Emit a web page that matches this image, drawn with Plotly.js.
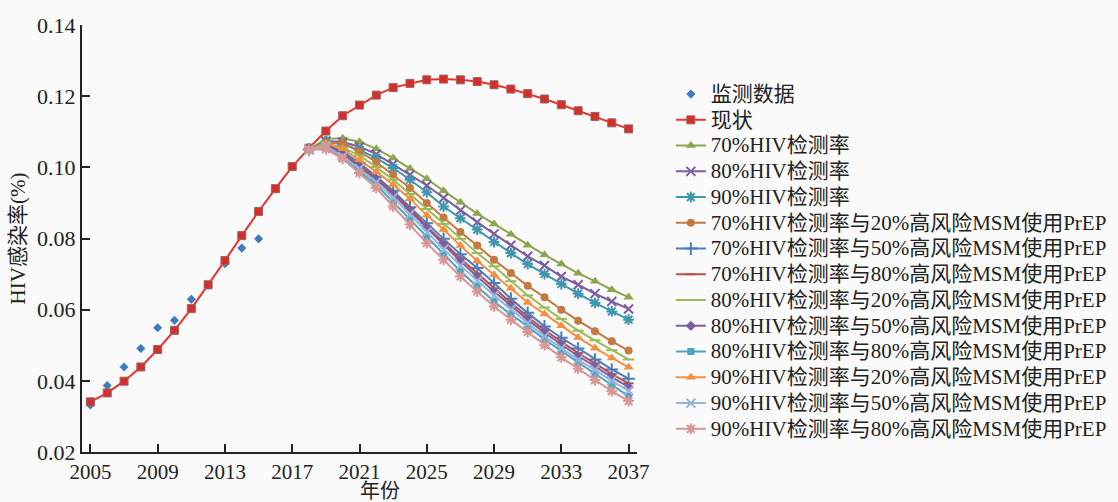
<!DOCTYPE html>
<html>
<head>
<meta charset="utf-8">
<script src="https://cdn.plot.ly/plotly-3.0.1.min.js"></script>
<style>
html,body{margin:0;padding:0;background:#fafafa;}
#chart{width:1118px;height:502px;}
</style>
</head>
<body>
<div id="chart"></div>
<script>
// ---- data ----
const obsYears = [2005,2006,2007,2008,2009,2010,2011,2012,2013,2014,2015];
const obsValues = [0.0332,0.0387,0.0439,0.0491,0.0549,0.0570,0.0629,0.0668,0.0729,0.0773,0.0799];

const sqYears = [2005,2006,2007,2008,2009,2010,2011,2012,2013,2014,2015,2016,2017,2018,2019,2020,2021,2022,2023,2024,2025,2026,2027,2028,2029,2030,2031,2032,2033,2034,2035,2036,2037];
const sqValues = [0.0341,0.0366,0.0399,0.0439,0.0488,0.0542,0.0603,0.0670,0.0738,0.0808,0.0876,0.0940,0.1002,0.1054,0.1102,0.1145,0.1175,0.1203,0.1224,0.1236,0.1246,0.1248,0.1246,0.1241,0.1232,0.1220,0.1207,0.1192,0.1176,0.1159,0.1143,0.1125,0.1108];

const scYears = [2018,2019,2020,2021,2022,2023,2024,2025,2026,2027,2028,2029,2030,2031,2032,2033,2034,2035,2036,2037];
const t70    = [0.1050,0.1080,0.1082,0.1072,0.1052,0.1026,0.0997,0.0968,0.0934,0.0902,0.0870,0.0841,0.0812,0.0781,0.0754,0.0728,0.0702,0.0680,0.0656,0.0635];
const t80    = [0.1050,0.1074,0.1071,0.1058,0.1037,0.1009,0.0979,0.0949,0.0914,0.0879,0.0846,0.0813,0.0781,0.0750,0.0724,0.0693,0.0670,0.0645,0.0623,0.0602];
const t90    = [0.1050,0.1072,0.1065,0.1049,0.1026,0.0998,0.0965,0.0930,0.0890,0.0857,0.0825,0.0790,0.0759,0.0728,0.0700,0.0672,0.0645,0.0619,0.0595,0.0572];
const t70p20 = [0.1050,0.1070,0.1068,0.1044,0.1015,0.0979,0.0942,0.0900,0.0859,0.0818,0.0780,0.0740,0.0703,0.0667,0.0635,0.0600,0.0569,0.0539,0.0511,0.0485];
const t70p50 = [0.1050,0.1065,0.1044,0.1012,0.0974,0.0934,0.0888,0.0843,0.0799,0.0756,0.0717,0.0675,0.0631,0.0591,0.0553,0.0521,0.0491,0.0460,0.0432,0.0406];
const t70p80 = [0.1050,0.1064,0.1040,0.1006,0.0970,0.0928,0.0884,0.0834,0.0788,0.0744,0.0702,0.0660,0.0620,0.0580,0.0543,0.0510,0.0478,0.0449,0.0419,0.0393];
const t80p20 = [0.1050,0.1067,0.1056,0.1033,0.1001,0.0965,0.0925,0.0883,0.0841,0.0799,0.0759,0.0722,0.0680,0.0640,0.0606,0.0574,0.0541,0.0514,0.0486,0.0460];
const t80p50 = [0.1050,0.1063,0.1037,0.1002,0.0966,0.0925,0.0878,0.0829,0.0781,0.0736,0.0693,0.0651,0.0612,0.0572,0.0535,0.0502,0.0469,0.0441,0.0410,0.0383];
const t80p80 = [0.1050,0.1056,0.1028,0.0988,0.0951,0.0902,0.0853,0.0803,0.0754,0.0708,0.0665,0.0623,0.0587,0.0553,0.0516,0.0483,0.0452,0.0420,0.0388,0.0357];
const t90p20 = [0.1050,0.1068,0.1052,0.1021,0.0988,0.0951,0.0912,0.0865,0.0825,0.0780,0.0737,0.0698,0.0660,0.0620,0.0588,0.0555,0.0522,0.0492,0.0464,0.0438];
const t90p50 = [0.1050,0.1060,0.1030,0.0996,0.0958,0.0915,0.0868,0.0818,0.0770,0.0724,0.0681,0.0640,0.0601,0.0562,0.0525,0.0492,0.0459,0.0431,0.0400,0.0372];
const t90p80 = [0.1050,0.1051,0.1024,0.0984,0.0942,0.0890,0.0839,0.0787,0.0740,0.0693,0.0651,0.0609,0.0572,0.0537,0.0500,0.0466,0.0434,0.0402,0.0371,0.0343];

const names = ['监测数据','现状','70%HIV检测率','80%HIV检测率','90%HIV检测率',
  '70%HIV检测率与20%高风险MSM使用PrEP','70%HIV检测率与50%高风险MSM使用PrEP','70%HIV检测率与80%高风险MSM使用PrEP',
  '80%HIV检测率与20%高风险MSM使用PrEP','80%HIV检测率与50%高风险MSM使用PrEP','80%HIV检测率与80%高风险MSM使用PrEP',
  '90%HIV检测率与20%高风险MSM使用PrEP','90%HIV检测率与50%高风险MSM使用PrEP','90%HIV检测率与80%高风险MSM使用PrEP'];

// ---- styles ----
const scenarios = [
  {y:t70,    color:'#8ba64c', symbol:'triangle-up', size:9},
  {y:t80,    color:'#7a5e9e', symbol:'x-thin-open', size:9},
  {y:t90,    color:'#3f97ad', symbol:'asterisk-open', size:9},
  {y:t70p20, color:'#c47a43', symbol:'circle', size:8},
  {y:t70p50, color:'#4a7dbf', symbol:'cross-thin-open', size:9},
  {y:t70p80, color:'#b8504e', symbol:'line-ew-open', size:7},
  {y:t80p20, color:'#9bbb59', symbol:'line-ew-open', size:8},
  {y:t80p50, color:'#7a5f9f', symbol:'diamond', size:8},
  {y:t80p80, color:'#46a8c0', symbol:'square', size:7},
  {y:t90p20, color:'#f3903e', symbol:'triangle-up', size:9},
  {y:t90p50, color:'#9ab3d8', symbol:'x-thin-open', size:9},
  {y:t90p80, color:'#d99694', symbol:'asterisk-open', size:9}
];

const legendLabel = s => '<span style="font-size:21px">' + s + '</span>';

const traces = [];
traces.push({
  x: obsYears, y: obsValues, name: legendLabel(names[0]), mode: 'markers', type: 'scatter',
  marker: {symbol:'diamond', color:'#3f7cbf', size:7}
});
traces.push({
  x: sqYears, y: sqValues, name: legendLabel(names[1]), mode: 'lines+markers', type: 'scatter',
  line: {color:'#e8332e', width:2},
  marker: {symbol:'square', color:'#d32f2b', size:8, line:{color:'#a06060', width:1}}
});
scenarios.forEach((s, i) => {
  const open = s.symbol.endsWith('-open');
  traces.push({
    x: scYears, y: s.y, name: legendLabel(names[i+2]), mode: 'lines+markers', type: 'scatter',
    line: {color: s.color, width: 2},
    marker: {symbol: s.symbol, color: s.color, size: s.size,
             line: {color: s.color, width: open ? 2 : 0}}
  });
});

const fontFam = '"Liberation Serif", "Times New Roman", "Noto Sans CJK SC", serif';

const layout = {
  width: 1118, height: 502,
  paper_bgcolor: '#fafafa', plot_bgcolor: '#fafafa',
  margin: {l: 82, r: 481, t: 25, b: 49.5, autoexpand: false},
  font: {family: fontFam, size: 20, color: '#222'},
  showlegend: true,
  legend: {x: 1.061, xanchor: 'left', y: 0.88, yanchor: 'top',
           font: {family: fontFam, size: 17.5, color: '#222'},
           bgcolor: 'rgba(0,0,0,0)', tracegroupgap: 0, itemwidth: 30},
  xaxis: {
    range: [2004.5, 2037.5], tick0: 2005, dtick: 4,
    showgrid: false, zeroline: false, showline: true, linecolor: '#222', linewidth: 2,
    ticks: 'inside', ticklen: 8, tickwidth: 2, tickcolor: '#222',
    tickfont: {family: fontFam, size: 21, color: '#222'}
  },
  yaxis: {
    range: [0.02, 0.14], tick0: 0.02, dtick: 0.02, tickformat: '.2f',
    showgrid: false, zeroline: false, showline: true, linecolor: '#222', linewidth: 2,
    ticks: 'inside', ticklen: 8, tickwidth: 2, tickcolor: '#222',
    tickfont: {family: fontFam, size: 22, color: '#222'},
    title: {text: 'HIV感染率(%)', font: {family: fontFam, size: 21, color: '#222'}, standoff: 6}
  },
  annotations: [{
    text: '年份', xref: 'paper', yref: 'paper', x: 0.537, y: -0.092,
    xanchor: 'center', yanchor: 'middle', showarrow: false,
    font: {family: fontFam, size: 20, color: '#222'}
  }]
};

Plotly.newPlot('chart', traces, layout, {displayModeBar: false, staticPlot: true});
</script>
</body>
</html>
